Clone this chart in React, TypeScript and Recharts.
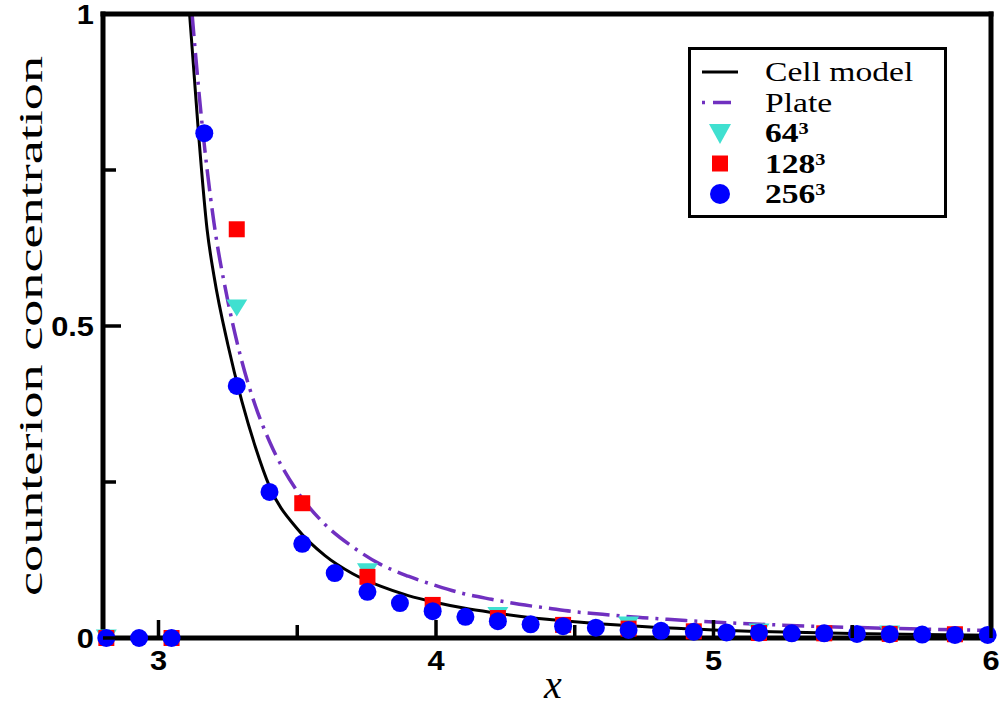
import { ComposedChart, Line, Scatter, XAxis, YAxis, Legend } from 'recharts'

// axis ticks (labels empty for minor ticks)
const xTicks = [3, 3.5, 4, 4.5, 5, 5.5, 6]
const xTickLabels = ['3', '', '4', '', '5', '', '6']
const yTicks = [0, 0.25, 0.5, 0.75, 1]
const yTickLabels = ['0', '', '0.5', '', '1']

// Cell model curve
const cellX = [3.112, 3.144, 3.175, 3.2, 3.25, 3.3, 3.35, 3.4, 3.5, 3.6, 3.7, 3.8, 3.9, 4.0, 4.1, 4.2, 4.3, 4.4, 4.5, 4.6, 4.7, 4.8, 4.9, 5.0, 5.25, 5.5, 5.75, 6.0]
const cellY = [1.0, 0.81, 0.655, 0.58, 0.47, 0.38, 0.305, 0.243, 0.175, 0.132, 0.103, 0.083, 0.068, 0.057, 0.048, 0.041, 0.035, 0.03, 0.026, 0.0225, 0.0195, 0.017, 0.015, 0.013, 0.0095, 0.0072, 0.0056, 0.0045]

// Plate curve
const plateX = [3.121, 3.15, 3.2, 3.25, 3.3, 3.35, 3.4, 3.5, 3.6, 3.7, 3.8, 3.9, 4.0, 4.1, 4.2, 4.3, 4.4, 4.5, 4.6, 4.7, 4.8, 4.9, 5.0, 5.25, 5.5, 5.75, 6.0]
const plateY = [1.0, 0.855, 0.665, 0.54, 0.444, 0.371, 0.315, 0.235, 0.182, 0.146, 0.118, 0.099, 0.084, 0.071, 0.062, 0.054, 0.048, 0.042, 0.038, 0.034, 0.031, 0.028, 0.0255, 0.0206, 0.017, 0.0143, 0.0122]

// simulations
const x64 = [2.812, 3.282, 3.753, 4.223, 4.694, 5.164, 5.635]
const y64 = [0, 0.529, 0.106, 0.036, 0.021, 0.0096, 0.0065]

const x128 = [2.812, 3.047, 3.282, 3.518, 3.753, 3.988, 4.223, 4.458, 4.694, 4.929, 5.164, 5.399, 5.635, 5.87]
const y128 = [0, 0, 0.655, 0.216, 0.098, 0.053, 0.032, 0.021, 0.015, 0.0107, 0.008, 0.0075, 0.0065, 0.006]

const x256 = [2.812, 2.93, 3.047, 3.165, 3.282, 3.4, 3.518, 3.635, 3.753, 3.87, 3.988, 4.106, 4.223, 4.341, 4.458, 4.576, 4.694, 4.811, 4.929, 5.047, 5.164, 5.282, 5.399, 5.517, 5.635, 5.752, 5.87, 5.988]
const y256 = [0, 0, 0, 0.809, 0.404, 0.234, 0.151, 0.104, 0.074, 0.056, 0.043, 0.034, 0.027, 0.022, 0.019, 0.0165, 0.013, 0.0115, 0.01, 0.009, 0.0085, 0.0075, 0.0075, 0.0065, 0.006, 0.0055, 0.005, 0.005]

const zip = (xs: number[], ys: number[]) => xs.map((x, i) => ({ x, y: ys[i] }))

const cellData = zip(cellX, cellY)
const plateData = zip(plateX, plateY)
const data64 = zip(x64, y64)
const data128 = zip(x128, y128)
const data256 = zip(x256, y256)

const PURPLE = '#7030c0'
const CYAN = '#40e0d0'
const RED = '#ff0000'
const BLUE = '#0000ff'
const serif = '"Liberation Serif", "Times New Roman", serif'
const tickStroke = { stroke: '#000', strokeWidth: 3.5 }

// bold sans tick label, a little wider than the stock font like the original
const TickText = ({ x, y, anchor, children }: any) => (
  <text
    transform={`translate(${x}, ${y}) scale(1.1, 1)`}
    textAnchor={anchor}
    fill="#000"
    style={{ fontFamily: '"Liberation Sans", Arial, sans-serif', fontWeight: 700, fontSize: 28 }}
  >
    {children}
  </text>
)

const BottomTick = ({ x, y, payload }: any) => {
  const label = xTickLabels[xTicks.indexOf(payload.value)]
  const len = label ? 18 : 13
  return (
    <g>
      <line x1={x} y1={y} x2={x} y2={y - len} style={tickStroke} />
      {label ? <TickText x={x} y={y + 32} anchor="middle">{label}</TickText> : null}
    </g>
  )
}

const TopTick = ({ x, y, payload }: any) => {
  const label = xTickLabels[xTicks.indexOf(payload.value)]
  const len = label ? 18 : 13
  return <line x1={x} y1={y} x2={x} y2={y + len} style={tickStroke} />
}

const LeftTick = ({ x, y, payload }: any) => {
  const label = yTickLabels[yTicks.indexOf(payload.value)]
  const len = label ? 18 : 13
  return (
    <g>
      <line x1={x} y1={y} x2={x + len} y2={y} style={tickStroke} />
      {label ? <TickText x={x - 9} y={y + 10} anchor="end">{label}</TickText> : null}
    </g>
  )
}

const RightTick = ({ x, y, payload }: any) => {
  const label = yTickLabels[yTicks.indexOf(payload.value)]
  const len = label ? 18 : 13
  return <line x1={x} y1={y} x2={x - len} y2={y} style={tickStroke} />
}

const YLabel = ({ viewBox }: any) => {
  const cx = viewBox.x + viewBox.width - 61
  const cy = viewBox.y + viewBox.height / 2
  return (
    <text
      transform={`translate(${cx}, ${cy}) rotate(-90)`}
      textAnchor="middle"
      textLength={540}
      lengthAdjust="spacingAndGlyphs"
      fill="#000"
      style={{ fontFamily: serif, fontSize: 34 }}
    >
      counterion concentration
    </text>
  )
}

const XLabel = ({ viewBox }: any) => (
  <text
    x={viewBox.x + viewBox.width / 2 + 6}
    y={viewBox.y + 60}
    textAnchor="middle"
    fill="#000"
    style={{ fontFamily: serif, fontStyle: 'italic', fontSize: 40 }}
  >
    x
  </text>
)

const Circle = ({ cx, cy }: any) => <circle cx={cx} cy={cy} r={9} fill={BLUE} />
const Square = ({ cx, cy }: any) => <rect x={cx - 8} y={cy - 8} width={16} height={16} fill={RED} />
const DownTriangle = ({ cx, cy }: any) => (
  <polygon points={`${cx - 10.5},${cy - 8.5} ${cx + 10.5},${cy - 8.5} ${cx},${cy + 8.5}`} fill={CYAN} />
)

const Sup = ({ base }: { base: string }) => (
  <>
    {base}
    <tspan fontSize={17} dy={-8}>3</tspan>
  </>
)

const LegendBox = () => {
  const rows = [25, 55.5, 86, 116.5, 147]
  const txt = (y: number, bold: boolean, children: any) => (
    <text
      transform={`translate(77, ${y + 9}) scale(1.2, 1)`}
      fill="#000"
      style={{ fontFamily: serif, fontSize: 28, fontWeight: bold ? 700 : 400 }}
    >
      {children}
    </text>
  )
  return (
    <svg width={259} height={171} style={{ display: 'block' }}>
      <rect x={1.5} y={1.5} width={256} height={168} fill="#fff" stroke="#000" strokeWidth={3} />
      <line x1={14} x2={50} y1={rows[0]} y2={rows[0]} stroke="#000" strokeWidth={3} />
      <line x1={14} x2={50} y1={rows[1]} y2={rows[1]} stroke={PURPLE} strokeWidth={3.5} strokeDasharray="3 8 18 30" />
      <polygon points={`21,${rows[2] - 9} 43,${rows[2] - 9} 32,${rows[2] + 11}`} fill={CYAN} />
      <rect x={24} y={rows[3] - 8} width={16} height={16} fill={RED} />
      <circle cx={32} cy={rows[4]} r={10} fill={BLUE} />
      {txt(rows[0], false, 'Cell model')}
      {txt(rows[1], false, 'Plate')}
      {txt(rows[2], true, <Sup base="64" />)}
      {txt(rows[3], true, <Sup base="128" />)}
      {txt(rows[4], true, <Sup base="256" />)}
    </svg>
  )
}

const axisLine = { stroke: '#000', strokeWidth: 5, strokeLinecap: 'square' as const }

export default function App() {
  return (
    <div style={{ position: 'absolute', left: 0, top: 0, width: 1005, height: 709, background: '#fff' }}>
      <ComposedChart width={1005} height={709} margin={{ top: 13, right: 13, bottom: 70, left: 102 }}>
        <XAxis
          xAxisId="b"
          dataKey="x"
          type="number"
          domain={[2.8, 6]}
          ticks={xTicks}
          height={1}
          stroke="#000"
          strokeWidth={5}
          tickSize={0}
          tickMargin={0}
          tickLine={false}
          axisLine={axisLine}
          tick={<BottomTick />}
          interval={0}
          label={<XLabel />}
        />
        <XAxis
          xAxisId="t"
          orientation="top"
          type="number"
          domain={[2.8, 6]}
          ticks={xTicks}
          height={1}
          stroke="#000"
          strokeWidth={5}
          tickSize={0}
          tickMargin={0}
          tickLine={false}
          axisLine={axisLine}
          tick={<TopTick />}
          interval={0}
        />
        <YAxis
          yAxisId="l"
          dataKey="y"
          type="number"
          domain={[0, 1]}
          ticks={yTicks}
          width={1}
          stroke="#000"
          strokeWidth={5}
          tickSize={0}
          tickMargin={0}
          tickLine={false}
          axisLine={axisLine}
          tick={<LeftTick />}
          interval={0}
          label={<YLabel />}
        />
        <YAxis
          yAxisId="r"
          orientation="right"
          type="number"
          domain={[0, 1]}
          ticks={yTicks}
          width={1}
          stroke="#000"
          strokeWidth={5}
          tickSize={0}
          tickMargin={0}
          tickLine={false}
          axisLine={axisLine}
          tick={<RightTick />}
          interval={0}
        />
        <Line
          xAxisId="b"
          yAxisId="l"
          data={cellData}
          dataKey="y"
          type="monotone"
          stroke="#000"
          strokeWidth={3}
          dot={false}
          isAnimationActive={false}
        />
        <Line
          xAxisId="b"
          yAxisId="l"
          data={plateData}
          dataKey="y"
          type="monotone"
          stroke={PURPLE}
          strokeWidth={3.5}
          strokeDasharray="22 7 3 7"
          dot={false}
          isAnimationActive={false}
        />
        <Scatter xAxisId="b" yAxisId="l" data={data64} dataKey="y" shape={<DownTriangle />} isAnimationActive={false} />
        <Scatter xAxisId="b" yAxisId="l" data={data128} dataKey="y" shape={<Square />} isAnimationActive={false} />
        <Scatter xAxisId="b" yAxisId="l" data={data256} dataKey="y" shape={<Circle />} isAnimationActive={false} />
        <Legend
          layout="vertical"
          align="center"
          verticalAlign="middle"
          content={<LegendBox />}
          wrapperStyle={{ left: 688, top: 47, width: 259, height: 171 }}
        />
      </ComposedChart>
    </div>
  )
}
